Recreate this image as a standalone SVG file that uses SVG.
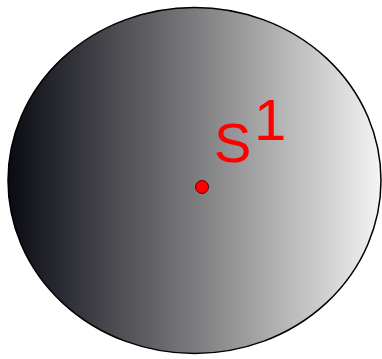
<svg xmlns="http://www.w3.org/2000/svg" width="382" height="359" viewBox="0 0 382 359">
<defs>
<linearGradient id="g" x1="0" y1="0" x2="1" y2="0">
<stop offset="0" stop-color="#0a0a14"/>
<stop offset="0.5" stop-color="#7c7c7e"/>
<stop offset="1" stop-color="#f4f4f4"/>
</linearGradient>
<style>
.lbl{font-family:"Liberation Sans",Arial,sans-serif;fill:#f00;}
</style>
</defs>
<rect width="382" height="359" fill="#fff"/>
<g id="sphere">
<ellipse cx="194.5" cy="180.5" rx="186.5" ry="173" fill="url(#g)" stroke="#000" stroke-width="1.5"/>
</g>
<g id="point">
<circle cx="202" cy="187" r="6.5" fill="#f00" stroke="#600" stroke-width="1"/>
<text class="lbl" x="214" y="162" font-size="56">S</text>
<text class="lbl" x="254" y="140" font-size="58">1</text>
</g>
</svg>
